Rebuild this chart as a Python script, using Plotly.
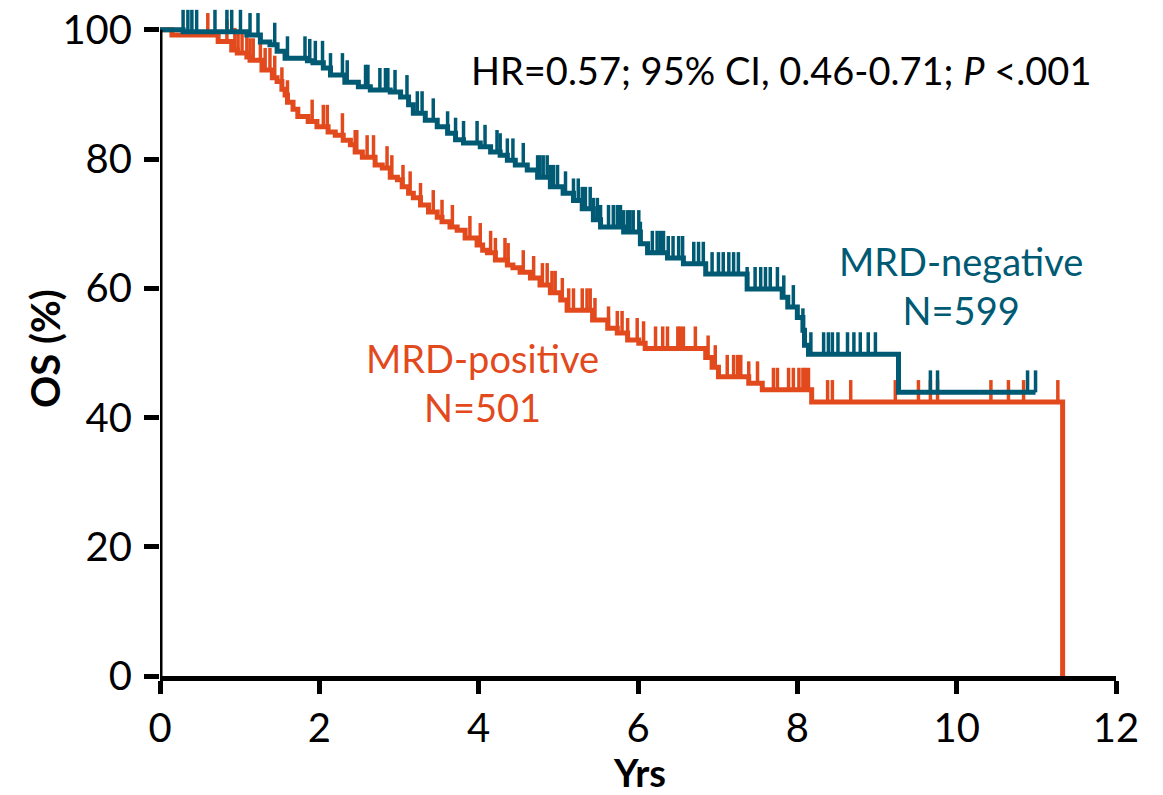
import numpy as np
import plotly.graph_objects as go

# ---------------- data ----------------
# MRD-positive (orange): step times (yrs) and survival (%) after each step
pos_time = [0.00, 0.15, 0.73, 0.90, 0.97, 1.09, 1.13, 1.28, 1.41, 1.47, 1.53, 1.57, 1.60,
            1.67, 1.73, 1.86, 1.97, 2.11, 2.20, 2.30, 2.39, 2.45, 2.54, 2.70, 2.79, 2.89,
            2.98, 3.04, 3.12, 3.18, 3.27, 3.37, 3.48, 3.54, 3.64, 3.73, 3.83, 3.98, 4.05,
            4.11, 4.21, 4.36, 4.43, 4.52, 4.65, 4.77, 4.90, 5.03, 5.11, 5.43, 5.62, 5.74,
            5.87, 6.01, 6.09, 6.85, 6.93, 7.01, 7.39, 7.56, 8.18, 11.33]
pos_surv = [100.0, 99.2, 98.2, 96.9, 96.4, 95.8, 95.3, 93.8, 92.6, 92.0, 90.8, 89.9, 88.8,
            87.7, 86.6, 85.8, 85.0, 84.2, 83.7, 82.9, 82.2, 81.1, 80.3, 79.1, 78.6, 77.2,
            76.8, 75.7, 74.7, 74.0, 72.9, 71.8, 71.0, 70.3, 69.5, 69.0, 67.8, 66.7, 65.9,
            65.5, 64.4, 63.6, 63.2, 62.5, 61.6, 60.5, 59.3, 58.2, 56.6, 55.1, 53.8, 53.1,
            52.0, 51.5, 50.7, 49.3, 47.8, 46.3, 45.3, 44.3, 42.4, 0.0]
pos_censor = [0.60, 0.84, 0.94, 0.98, 1.03, 1.09, 1.13, 1.17, 1.26, 1.32, 1.38, 1.44, 1.53,
              1.60, 1.91, 2.05, 2.10, 2.29, 2.45, 2.47, 2.60, 2.68, 2.85, 2.91, 3.05, 3.14,
              3.27, 3.43, 3.54, 3.67, 3.89, 4.02, 4.15, 4.21, 4.33, 4.37, 4.56, 4.69, 4.80,
              4.86, 4.92, 4.96, 5.05, 5.13, 5.19, 5.30, 5.36, 5.40, 5.46, 5.63, 5.74, 5.80,
              5.87, 5.99, 6.07, 6.22, 6.31, 6.37, 6.50, 6.53, 6.57, 6.72, 6.88, 6.97, 7.12,
              7.20, 7.25, 7.29, 7.39, 7.50, 7.70, 7.75, 7.89, 7.95, 8.02, 8.07, 8.10, 8.14,
              8.38, 8.44, 8.67, 9.23, 9.52, 9.67, 9.76, 10.43, 10.65, 10.84, 11.27]

# MRD-negative (teal)
neg_time = [0.00, 0.29, 1.09, 1.26, 1.38, 1.47, 1.57, 1.85, 1.92, 2.05, 2.14, 2.32, 2.49,
            2.64, 2.89, 3.02, 3.12, 3.18, 3.33, 3.48, 3.61, 3.71, 3.81, 4.02, 4.15, 4.27,
            4.36, 4.46, 4.61, 4.74, 4.90, 5.06, 5.19, 5.30, 5.44, 5.53, 5.82, 6.03, 6.12,
            6.37, 6.57, 6.85, 7.37, 7.81, 7.88, 8.00, 8.07, 8.09, 8.14, 9.27, 10.99]
neg_surv = [100.0, 99.7, 99.2, 98.1, 97.7, 96.7, 95.6, 95.2, 94.9, 94.1, 93.0, 91.9, 91.2,
            90.7, 90.4, 89.6, 88.4, 87.1, 86.0, 85.0, 84.0, 83.0, 82.5, 81.9, 81.1, 80.6,
            79.8, 79.1, 78.3, 77.2, 75.7, 74.7, 73.6, 72.3, 70.6, 69.5, 68.7, 66.9, 65.5,
            64.7, 63.8, 62.2, 59.9, 58.6, 57.1, 55.5, 53.5, 51.2, 49.8, 43.9, 43.9]
neg_censor = [0.29, 0.35, 0.40, 0.46, 0.69, 0.84, 0.90, 1.01, 1.13, 1.23, 1.44, 1.60, 1.82,
              1.88, 1.95, 2.04, 2.14, 2.29, 2.35, 2.58, 2.61, 2.76, 2.83, 2.86, 2.95, 3.10,
              3.23, 3.29, 3.43, 3.61, 3.71, 3.81, 3.98, 4.08, 4.23, 4.27, 4.36, 4.43, 4.56,
              4.74, 4.77, 4.81, 4.86, 4.90, 4.94, 4.99, 5.09, 5.19, 5.25, 5.30, 5.34, 5.40,
              5.44, 5.49, 5.53, 5.63, 5.69, 5.74, 5.78, 5.82, 5.87, 5.90, 5.94, 6.01, 6.03,
              6.18, 6.24, 6.28, 6.32, 6.38, 6.44, 6.51, 6.56, 6.70, 6.76, 6.82, 6.93, 7.01,
              7.07, 7.14, 7.20, 7.26, 7.37, 7.47, 7.54, 7.60, 7.66, 7.75, 7.83, 7.95, 8.07,
              8.17, 8.33, 8.39, 8.44, 8.51, 8.63, 8.71, 8.79, 8.89, 8.98, 9.67, 9.76, 10.89,
              10.99]

x_ticks = [0, 2, 4, 6, 8, 10, 12]
y_ticks = [0, 20, 40, 60, 80, 100]
TICK_H = 3.4  # censor tick height in % units

ORANGE = "#E24A1E"
TEAL = "#005A74"
FONT = "Lato"


def surv_at(times, surv, t):
    idx = np.searchsorted(np.asarray(times), np.asarray(t), side="right") - 1
    return np.asarray(surv)[idx]


fig = go.Figure()

for times, surv, cens, col, name in [
    (pos_time, pos_surv, pos_censor, ORANGE, "MRD-positive"),
    (neg_time, neg_surv, neg_censor, TEAL, "MRD-negative"),
]:
    fig.add_trace(go.Scatter(
        x=times, y=surv, mode="lines", line=dict(color=col, width=5, shape="hv"),
        name=name, showlegend=False, hoverinfo="skip"))
    cy = surv_at(times, surv, cens)
    fig.add_trace(go.Scatter(
        x=cens, y=cy, mode="markers", marker=dict(size=1, opacity=0, color=col),
        error_y=dict(type="data", symmetric=False, array=[TICK_H] * len(cens),
                     arrayminus=[0] * len(cens), width=0, thickness=3.5, color=col),
        cliponaxis=False, showlegend=False, hoverinfo="skip"))

fig.add_annotation(x=7.79, y=93.8, xref="x", yref="y",
                   text="HR=0.57; 95% CI, 0.46-0.71; <i>P</i> &lt;.001",
                   showarrow=False, font=dict(family=FONT, size=38, color="black"))
fig.add_annotation(x=10.06, y=60.5, xref="x", yref="y",
                   text="MRD-negative<br>N=599", showarrow=False,
                   font=dict(family=FONT, size=38, color=TEAL))
fig.add_annotation(x=4.05, y=45.5, xref="x", yref="y",
                   text="MRD-positive<br>N=501", showarrow=False,
                   font=dict(family=FONT, size=38, color=ORANGE))

# axis titles (pixel anchors converted to paper fractions below)
fig.add_annotation(x=45, y=349, xref="paper", yref="paper", text="<b>OS (%)</b>",
                   showarrow=False, textangle=-90, xanchor="center", yanchor="middle",
                   font=dict(family=FONT, size=40, color="black"))
fig.add_annotation(x=639, y=772, xref="paper", yref="paper", text="<b>Yrs</b>",
                   showarrow=False, xanchor="center", yanchor="middle",
                   font=dict(family=FONT, size=38, color="black"))

axis_common = dict(linecolor="black", linewidth=5, ticks="outside",
                   tickwidth=5, tickcolor="black", showgrid=False,
                   zeroline=False, automargin=False,
                   tickfont=dict(family=FONT, size=40, color="black"))

fig.update_xaxes(range=[0, 12], tickvals=x_ticks, ticktext=[str(v) for v in x_ticks],
                 showline=True, ticklen=13, **axis_common)
# y axis line is drawn only up to 100 (as a shape), extra headroom keeps censor ticks visible
fig.update_yaxes(range=[0, 104], tickvals=y_ticks, ticktext=[str(v) for v in y_ticks],
                 showline=False, ticklen=15, ticklabelstandoff=4, **axis_common)
fig.add_shape(type="line", xref="x", yref="y", x0=0, x1=0, y0=-0.4, y1=y_ticks[-1],
              line=dict(color="black", width=5), layer="above")

PLOT_L, PLOT_R, PLOT_B, PLOT_T = 160, 47, 119, 4
W, H = 1163, 795
fig.update_layout(width=W, height=H, margin=dict(l=PLOT_L, r=PLOT_R, t=PLOT_T, b=PLOT_B),
                  plot_bgcolor="white", paper_bgcolor="white")

for ann in fig.layout.annotations:
    if ann.xref == "paper":
        ann.x = (ann.x - PLOT_L) / (W - PLOT_L - PLOT_R)
        ann.y = 1 - (ann.y - PLOT_T) / (H - PLOT_T - PLOT_B)

fig.write_html("out.html")
